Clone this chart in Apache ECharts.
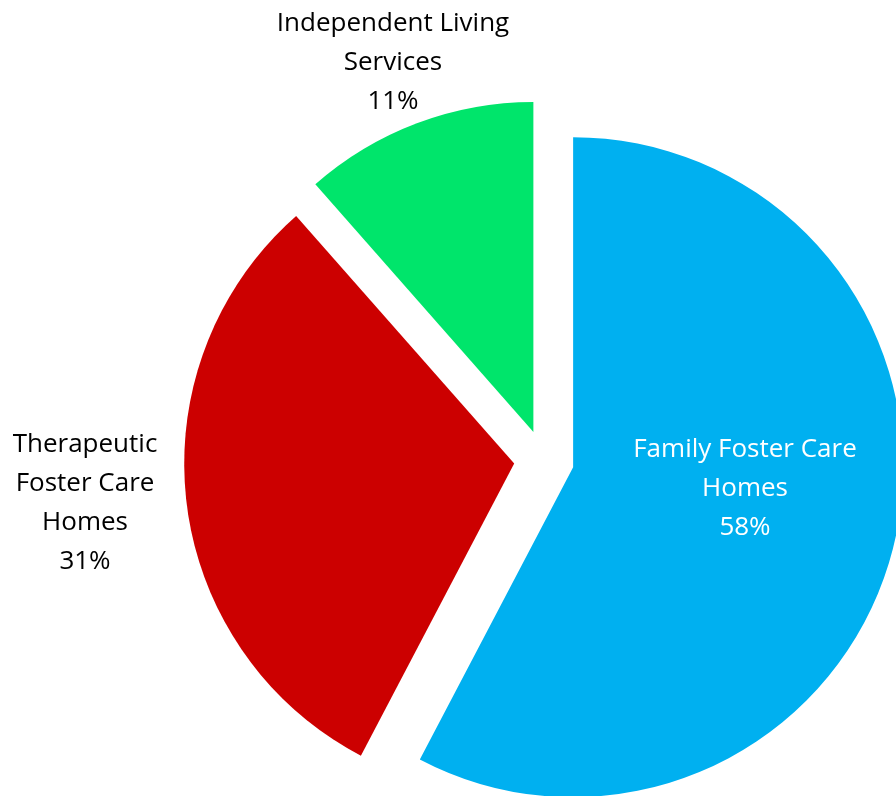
<!DOCTYPE html>
<html>
<head>
<meta charset="utf-8">
<script src="https://cdn.jsdelivr.net/npm/echarts@6/dist/echarts.min.js"></script>
<style>
  html, body { margin: 0; padding: 0; background: #fff; }
  #chart { width: 896px; height: 796px; }
</style>
</head>
<body>
<div id="chart"></div>
<script>
// data
var categories = ["Family Foster Care\nHomes", "Therapeutic\nFoster Care\nHomes", "Independent Living\nServices"];
var shares = [57.69, 30.82, 11.49];
var colors = ["#00B0F0", "#CC0000", "#00E56B"];
var labelColors = ["#fff", "#000", "#000"];
// label anchors (px)
var labelX = [745, 85, 393];
var labelY = [489, 503, 63];

var chart = echarts.init(document.getElementById("chart"));

var pieBase = {
  type: "pie",
  center: [544, 460],
  radius: [0, 330],
  startAngle: 90,
  emphasis: { disabled: true },
  labelLine: { show: false }
};

chart.setOption({
  animation: false,
  series: [
    // exploded slices
    Object.assign({}, pieBase, {
      selectedMode: "multiple",
      selectedOffset: 30,
      label: { show: false },
      data: categories.map(function (c, i) {
        return { name: c, value: shares[i], selected: true, itemStyle: { color: colors[i] } };
      })
    }),
    // same data, only carries the labels (selected slices pin their label x/y)
    Object.assign({}, pieBase, {
      silent: true,
      itemStyle: { color: "transparent" },
      label: {
        show: true,
        position: "inside",
        formatter: function (p) {
          return p.name + "\n" + Math.round(p.percent) + "%";
        },
        fontFamily: "Open Sans",
        fontSize: 26,
        lineHeight: 39
      },
      labelLayout: function (p) {
        return { x: labelX[p.dataIndex], y: labelY[p.dataIndex], align: "center", verticalAlign: "middle" };
      },
      data: categories.map(function (c, i) {
        return { name: c, value: shares[i], label: { color: labelColors[i] } };
      })
    })
  ]
});
</script>
</body>
</html>
